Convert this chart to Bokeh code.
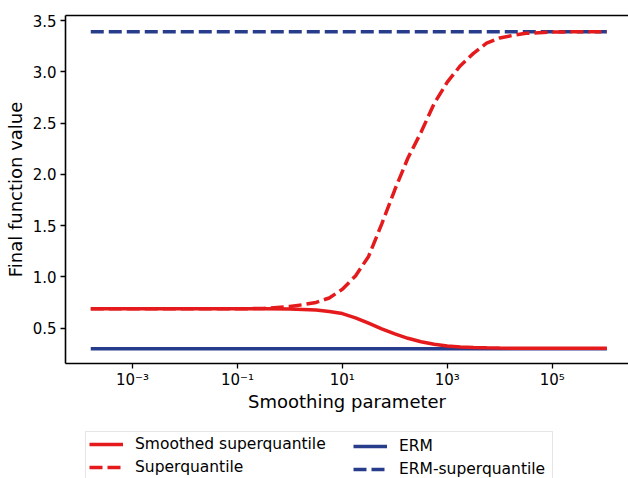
from bokeh.plotting import figure
from bokeh.layouts import column
from bokeh.models import FixedTicker, LogAxis, Legend, LegendItem, Range1d
from bokeh.embed import file_html
from bokeh.resources import INLINE

# ---- data ----
smoothing_param = [1.6e-4, 1e-3, 1e-2, 1e-1, 0.316, 1.0, 1.78, 3.16, 5.62, 10.0,
                   17.8, 31.6, 56.2, 100.0, 178.0, 316.0, 562.0, 1000.0, 1780.0,
                   3160.0, 5620.0, 1.0e4, 1.78e4, 3.16e4, 1.0e5, 3.16e5, 1.1e6]
smoothed_superquantile = [0.69, 0.69, 0.69, 0.69, 0.69, 0.688, 0.684, 0.677, 0.664, 0.643,
                          0.602, 0.55, 0.495, 0.445, 0.402, 0.369, 0.345, 0.328, 0.318,
                          0.312, 0.309, 0.307, 0.306, 0.306, 0.305, 0.305, 0.305]
superquantile = [0.69, 0.69, 0.69, 0.69, 0.693, 0.712, 0.73, 0.752, 0.795, 0.88,
                 1.01, 1.2, 1.515, 1.85, 2.16, 2.41, 2.69, 2.9, 3.06,
                 3.18, 3.28, 3.33, 3.355, 3.375, 3.388, 3.39, 3.39]
erm_value = 0.30
erm_superquantile_value = 3.39

x_ticks = [1e-3, 1e-1, 1e1, 1e3, 1e5]
x_tick_labels = ["10\u207b\u00b3", "10\u207b\u00b9", "10\u00b9", "10\u00b3", "10\u2075"]
y_ticks = [0.5, 1.0, 1.5, 2.0, 2.5, 3.0, 3.5]
y_tick_labels = ["0.5", "1.0", "1.5", "2.0", "2.5", "3.0", "3.5"]

RED = "#e41a1c"
BLUE = "#283c8c"
FONT = "DejaVu Sans"
W = 628

p = figure(width=W, height=420, x_axis_type="log",
           x_range=Range1d(5.28e-5, 2.85e6), y_range=Range1d(0.1565, 3.549),
           output_backend="svg", toolbar_location=None,
           min_border_left=65, min_border_right=0, min_border_top=15, min_border_bottom=57)
p.outline_line_color = None
p.xgrid.visible = False
p.ygrid.visible = False
p.background_fill_color = "white"
p.border_fill_color = "white"

erm_x = [smoothing_param[0], smoothing_param[-1]]
r_erm = p.line(erm_x, [erm_value, erm_value], line_color=BLUE, line_width=3.5)
r_erm_sq = p.line(erm_x, [erm_superquantile_value, erm_superquantile_value],
                  line_color=BLUE, line_width=3.5, line_dash="13 5")
r_smooth = p.line(smoothing_param, smoothed_superquantile, line_color=RED, line_width=3.5)
r_sq = p.line(smoothing_param, superquantile, line_color=RED, line_width=3.5, line_dash="13 5")

for ax in (p.xaxis[0], p.yaxis[0]):
    ax.axis_line_color = "black"
    ax.axis_line_width = 1.6
    ax.major_tick_line_color = "black"
    ax.major_tick_line_width = 1.3
    ax.major_tick_out = 5
    ax.major_tick_in = 0
    ax.minor_tick_line_color = None
    ax.major_label_text_font = FONT
    ax.major_label_text_font_size = "15px"
    ax.major_label_text_color = "black"
    ax.axis_label_text_font = FONT
    ax.axis_label_text_font_size = "18px"
    ax.axis_label_text_font_style = "normal"
    ax.axis_label_text_color = "black"

p.xaxis[0].ticker = FixedTicker(ticks=x_ticks)
p.xaxis[0].major_label_overrides = {t: l for t, l in zip(x_ticks, x_tick_labels)}
p.xaxis[0].major_label_standoff = 2
p.xaxis[0].axis_label = "Smoothing parameter"
p.xaxis[0].axis_label_standoff = -1

p.yaxis[0].ticker = FixedTicker(ticks=y_ticks)
p.yaxis[0].major_label_overrides = {t: l for t, l in zip(y_ticks, y_tick_labels)}
p.yaxis[0].major_label_standoff = 4
p.yaxis[0].axis_label = "Final function value"
p.yaxis[0].axis_label_standoff = 4

top = LogAxis(ticker=FixedTicker(ticks=[]), axis_line_color="black", axis_line_width=1.6,
              major_tick_line_color=None, minor_tick_line_color=None)
p.add_layout(top, "above")

# ---- legend strip below the plot (frame is aligned with the plot frame, left = 65) ----
lp = figure(width=W, height=58, x_range=Range1d(0, 1), y_range=Range1d(0, 1),
            output_backend="svg", toolbar_location=None,
            x_axis_location=None, y_axis_location=None,
            min_border_left=0, min_border_right=0, min_border_top=0, min_border_bottom=0)
lp.outline_line_color = None
lp.xgrid.visible = False
lp.ygrid.visible = False
lp.border_fill_color = "white"

# off-screen proxies that only give the legend its line styles
proxy_x = [-3.0, -2.0]
proxy_y = [-3.0, -3.0]
d_smooth = lp.line(proxy_x, proxy_y, line_color=RED, line_width=3.5)
d_sq = lp.line(proxy_x, proxy_y, line_color=RED, line_width=3.5, line_dash="13 5")
d_erm = lp.line(proxy_x, proxy_y, line_color=BLUE, line_width=3.5)
d_erm_sq = lp.line(proxy_x, proxy_y, line_color=BLUE, line_width=3.5, line_dash="13 5")

def make_legend(items, loc, framed):
    lg = Legend(items=items, location=loc, orientation="vertical",
                label_text_font=FONT, label_text_font_size="15.5px", label_text_color="black",
                glyph_width=34, glyph_height=18, label_height=18, label_standoff=12,
                spacing=5, padding=3, margin=0)
    if framed:
        lg.border_line_color = "#cccccc"
        lg.border_line_width = 1
        lg.background_fill_color = "white"
        lg.background_fill_alpha = 1.0
        lg.label_width = 414
    else:
        lg.border_line_color = None
        lg.background_fill_alpha = 0.0
    return lg

leg1 = make_legend([LegendItem(label="Smoothed superquantile", renderers=[d_smooth]),
                    LegendItem(label="Superquantile", renderers=[d_sq])], (20, -2), True)
leg2 = make_legend([LegendItem(label="ERM", renderers=[d_erm]),
                    LegendItem(label="ERM-superquantile", renderers=[d_erm_sq])], (288, 0), False)
lp.add_layout(leg1, "center")
lp.add_layout(leg2, "center")

layout = column(p, lp, spacing=0)
open("out.html", "w").write(file_html(layout, INLINE))
